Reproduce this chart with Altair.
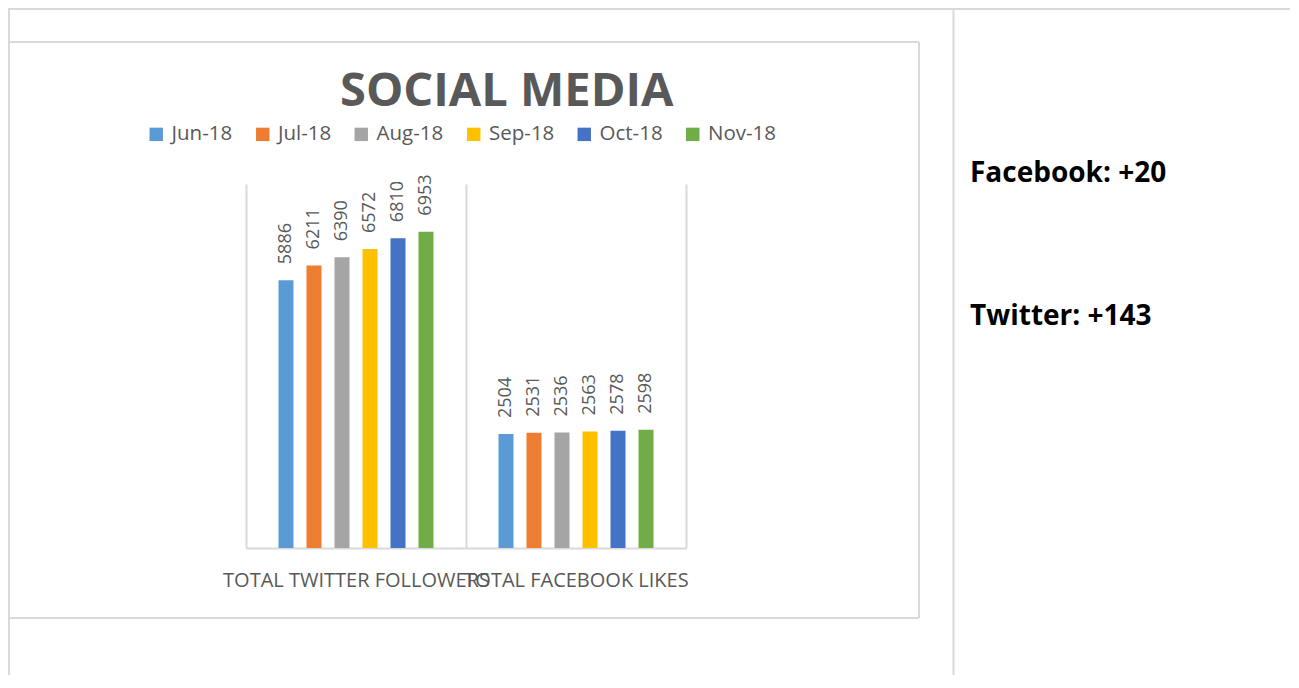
import altair as alt
import pandas as pd

# ---- data ----
categories = ["TOTAL TWITTER FOLLOWERS", "TOTAL FACEBOOK LIKES"]
months = ["Jun-18", "Jul-18", "Aug-18", "Sep-18", "Oct-18", "Nov-18"]
twitter_followers = [5886, 6211, 6390, 6572, 6810, 6953]
facebook_likes = [2504, 2531, 2536, 2563, 2578, 2598]
month_colors = ["#5B9BD5", "#ED7D31", "#A5A5A5", "#FFC000", "#4472C4", "#70AD47"]
title_text = "SOCIAL MEDIA"
summary_lines = ["Facebook: +20", "Twitter: +143"]

rows = []
for cat, vals in zip(categories, [twitter_followers, facebook_likes]):
    for m, v in zip(months, vals):
        rows.append({"category": cat, "month": m, "value": v})
df = pd.DataFrame(rows)

GRAY = "#595959"
LINE = "#d9d9d9"
FONT = "Open Sans"

x_enc = alt.X(
    "category:N",
    sort=categories,
    scale=alt.Scale(paddingInner=0, paddingOuter=0),
    axis=alt.Axis(
        title=None, labelAngle=0, labelFont=FONT, labelFontSize=20,
        labelColor=GRAY, labelLimit=0, labelOverlap=False, labelPadding=22,
        ticks=False, domain=True, domainColor=LINE, domainWidth=2,
        grid=True, gridColor=LINE, gridWidth=2, tickBand="extent",
    ),
)
xoff_enc = alt.XOffset(
    "month:N", sort=months,
    scale=alt.Scale(paddingInner=0.1429, paddingOuter=1),
)
y_enc = alt.Y("value:Q", scale=alt.Scale(domain=[0, 8000]), axis=None)

base = alt.Chart(df)

bars = base.mark_bar(width=15).encode(
    x=x_enc,
    xOffset=xoff_enc,
    y=y_enc,
    color=alt.Color(
        "month:N", sort=months,
        scale=alt.Scale(domain=months, range=month_colors),
        legend=alt.Legend(
            title=None, orient="none", direction="horizontal",
            legendX=-100, legendY=-60, symbolType="square", symbolSize=180,
            symbolStrokeWidth=0, labelFont=FONT, labelFontSize=20.5,
            labelColor=GRAY, labelOffset=5, columnPadding=19.5, padding=0,
        ),
    ),
)

labels = base.mark_text(
    angle=270, align="left", baseline="middle", dx=16,
    font=FONT, fontSize=18, color=GRAY,
).encode(
    x=x_enc, xOffset=xoff_enc, y=y_enc, text=alt.Text("value:Q", format="d"),
)

one = alt.Data(values=[{"k": 0}])

title = alt.Chart(one).mark_text(
    text=title_text, font=FONT, fontSize=47, fontWeight="bold",
    color=GRAY, align="left", baseline="alphabetic",
).encode(x=alt.value(94), y=alt.value(-78))

summary = []
for txt, yy in zip(summary_lines, [-2, 141]):
    summary.append(
        alt.Chart(one).mark_text(
            text=txt, font=FONT, fontSize=28, fontWeight="bold",
            color="#000000", align="left", baseline="alphabetic",
        ).encode(x=alt.value(724), y=alt.value(yy))
    )

# page / table / chart-box border lines (layout only)
h_lines = [(-239, 1070, -175), (-239, 673, -142), (-239, 673, 434)]
v_lines = [(-237, -176, 520), (673, -142, 434), (707.5, -176, 520)]
borders = []
for x1, x2, yy in h_lines:
    borders.append(alt.Chart(one).mark_rule(color=LINE, strokeWidth=2).encode(
        x=alt.value(x1), x2=alt.value(x2), y=alt.value(yy)))
for xx, y1, y2 in v_lines:
    borders.append(alt.Chart(one).mark_rule(color=LINE, strokeWidth=2).encode(
        x=alt.value(xx), y=alt.value(y1), y2=alt.value(y2)))

chart = alt.layer(*borders, bars, labels, title, *summary).properties(
    width=440, height=364,
    padding={"left": 238, "top": 176, "right": 604, "bottom": 127},
    autosize=alt.AutoSizeParams(type="none"),
).configure_view(stroke=None)

chart.save("out.html", embed_options={"renderer": "svg", "actions": False})
